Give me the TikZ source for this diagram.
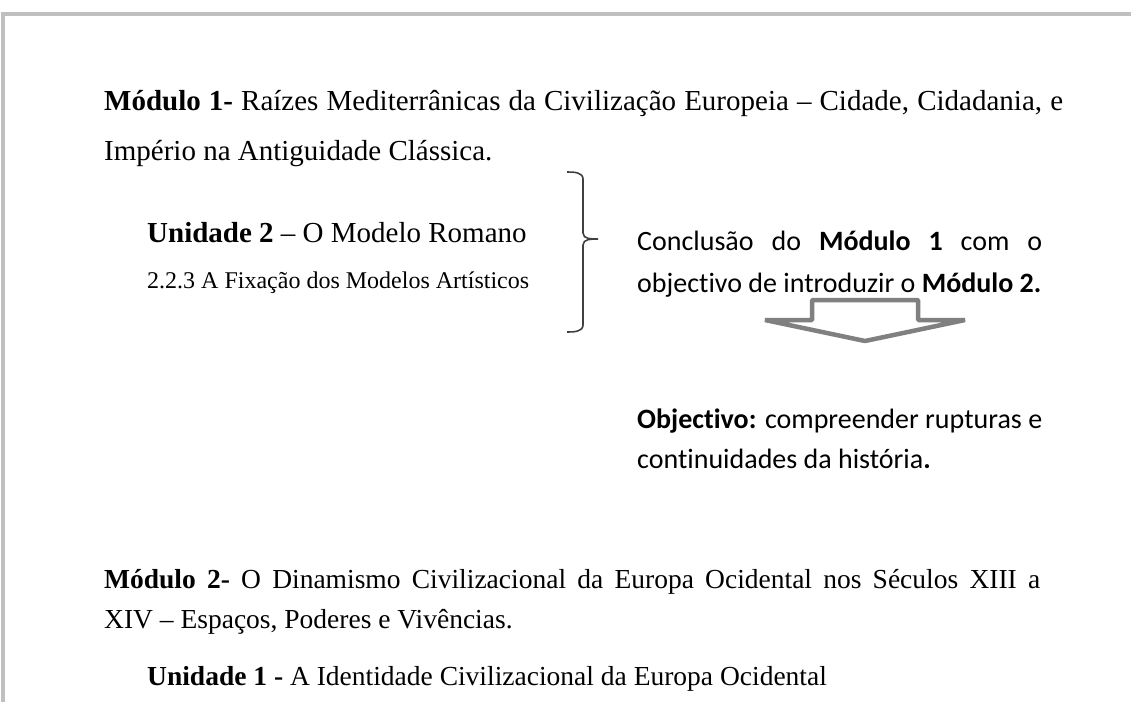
\documentclass[tikz,border=0pt]{standalone}
\usepackage{fontspec}
\setmainfont{Liberation Serif}
\newfontfamily\calibri[Ligatures={NoCommon,NoContextual}, RawFeature={-calt}]{Carlito}

\begin{document}
\begin{tikzpicture}[x=1pt, y=-1pt,
  txt/.style={anchor=base west, inner sep=0pt, font=\fontsize{29}{35}\selectfont},
  lowtxt/.style={anchor=base west, inner sep=0pt, font=\fontsize{27.5}{33}\selectfont},
  smalltxt/.style={anchor=base west, inner sep=0pt, font=\fontsize{24}{29}\selectfont},
  side/.style={anchor=base west, inner sep=0pt, font=\calibri\fontsize{28}{34}\selectfont}]
  \useasboundingbox (0,0) rectangle (1131,702);
  % Frame
  \draw[gray!50, line width=4pt] (3,702) -- (3,14) -- (1131,14);
  % Modulo 1
  \node[txt] (mod1a) at (104,110) {\makebox[959pt][s]{\textbf{Módulo 1-} Raízes Mediterrânicas da Civilização Europeia – Cidade, Cidadania, e}};
  \node[txt] (mod1b) at (104,160) {Império na Antiguidade Clássica.};
  \node[txt] (uni2) at (147,242) {\textbf{Unidade 2} – O Modelo Romano};
  \node[smalltxt] (sub223) at (147,288) {2.2.3 A Fixação dos Modelos Artísticos};
  % Brace
  \coordinate (tip) at (598,239);
  \draw[black!75, line width=1.6pt] (567,172) to[out=0, in=90] (583,179) -- (583,233)
    to[out=-90, in=180] (tip) to[out=180, in=90] (583,245) -- (583,325) to[out=-90, in=0] (567,332);
  % Conclusion and objective
  \node[side] (concl) at (637,250) {\makebox[405pt][s]{Conclusão do \textbf{Módulo 1} com o}};
  \node[side] (conclb) at (637,292) {objectivo de introduzir o \textbf{Módulo 2.}};
  \draw[gray, line width=4.5pt, line join=bevel, fill=white] (812,300) -- (918,300) -- (918,320) -- (965,320)
    -- (865,341) -- (765,320) -- (812,320) -- cycle;
  \node[side] (obj) at (637,428) {\makebox[405pt][s]{\textbf{Objectivo:} compreender rupturas e}};
  \node[side] (objb) at (637,468) {continuidades da história\textbf{.}};
  % Modulo 2
  \node[lowtxt] (mod2a) at (104,588) {\makebox[936pt][s]{\textbf{Módulo 2-} O Dinamismo Civilizacional da Europa Ocidental nos Séculos XIII a}};
  \node[lowtxt] (mod2b) at (104,628) {XIV – Espaços, Poderes e Vivências.};
  \node[lowtxt] (uni1) at (147,685) {\textbf{Unidade 1 -} A Identidade Civilizacional da Europa Ocidental};
\end{tikzpicture}
\end{document}
